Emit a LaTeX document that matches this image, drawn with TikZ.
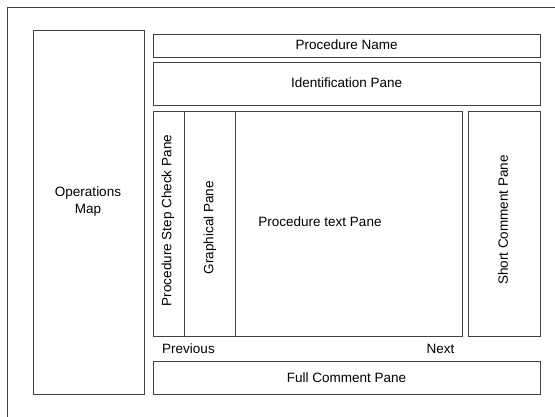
\documentclass[tikz,border=0pt]{standalone}
\usepackage{fontspec}
\setmainfont{Liberation Sans}
\begin{document}
\begin{tikzpicture}[x=1pt,y=-1pt,
  pane/.style={draw=black!75, line width=0.9pt, inner sep=0pt, anchor=north west},
  lbl/.style={font=\fontsize{13.5}{17}\selectfont, inner sep=0pt, align=center},
  frame/.style={draw=black!75, line width=0.9pt}]
\useasboundingbox (0,0) rectangle (555,416);
\coordinate (fbl) at (7,420);
\coordinate (ftl) at (7,7);
\coordinate (ftr) at (560,7);
\draw[frame] (fbl) -- (ftl) -- (ftr);
% boxes
\node[pane, minimum width=111pt, minimum height=363.7pt] (ops) at (32.5,30) {};
\node[pane, minimum width=387.3pt, minimum height=23pt] (name) at (153,33.5) {};
\node[pane, minimum width=387.3pt, minimum height=42.5pt] (ident) at (153,62) {};
\node[pane, minimum width=309pt, minimum height=225pt] (text) at (153,111) {};
\node[pane, minimum width=30.5pt, minimum height=225pt] (step) at (153,111) {};
\node[pane, minimum width=51.5pt, minimum height=225pt] (graph) at (183.5,111) {};
\node[pane, minimum width=72pt, minimum height=225pt] (short) at (468.3,111) {};
\node[pane, minimum width=387.3pt, minimum height=32.4pt] (full) at (153,361.3) {};
% labels
\node[lbl] (opsl) at (88,201.4) {Operations\\Map};
\node[lbl] (namel) at (346.6,45) {Procedure Name};
\node[lbl] (identl) at (346.6,83) {Identification Pane};
\node[lbl, rotate=90] (stepl) at (168,220.5) {Procedure Step Check Pane};
\node[lbl, rotate=90] (graphl) at (210,227.7) {Graphical Pane};
\node[lbl] (textl) at (320,221.7) {Procedure text Pane};
\node[lbl, rotate=90] (shortl) at (503,220) {Short Comment Pane};
\node[lbl] (prev) at (188.5,348.7) {Previous};
\node[lbl] (next) at (440.5,348.7) {Next};
\node[lbl] (fulll) at (346.6,377.5) {Full Comment Pane};
\end{tikzpicture}
\end{document}
